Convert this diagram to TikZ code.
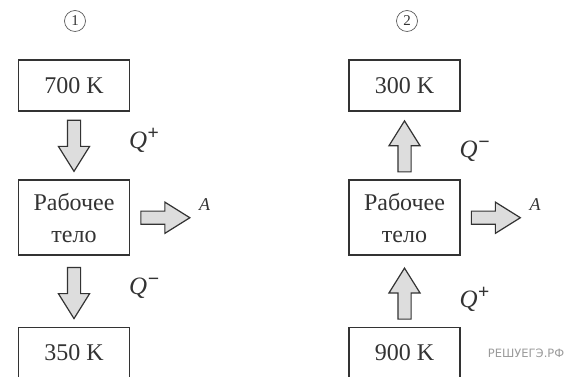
\documentclass[tikz,border=0pt]{standalone}
\usepackage{fontspec}
\setmainfont{Liberation Serif}
\newfontfamily\markfont{DejaVu Sans}
\usetikzlibrary{positioning, shapes.arrows}
\definecolor{linegray}{HTML}{333333}
\definecolor{arrowgray}{HTML}{DDDDDD}
\definecolor{markgray}{HTML}{9A9A9A}

\newcommand{\qplus}{Q\textsuperscript{\fontsize{20}{20}\selectfont\bfseries +}}
\newcommand{\qminus}{Q\textsuperscript{\fontsize{20}{20}\selectfont\bfseries −}}

\tikzset{
  tempbox/.style={draw=linegray, line width=1.5pt, minimum width=111pt,
    minimum height=51pt, inner sep=0pt, text=linegray,
    font=\fontsize{24}{32}\selectfont},
  bodybox/.style={tempbox, minimum height=75pt, align=center},
  heatarrow/.style={single arrow, draw=linegray, fill=arrowgray,
    line width=1.2pt, minimum height=51pt, minimum width=30pt,
    single arrow head extend=9pt, single arrow tip angle=64, inner sep=6pt},
  workarrow/.style={heatarrow, minimum height=49pt},
  qlabel/.style={anchor=west, inner sep=0pt, text=linegray,
    font=\fontsize{25}{25}\selectfont\itshape},
  alabel/.style={anchor=west, inner sep=0pt, text=linegray,
    font=\fontsize{18}{18}\selectfont\itshape},
  cyclemark/.style={circle, draw=linegray!80, line width=0.7pt,
    minimum size=21pt, inner sep=0pt, text=linegray,
    font=\fontsize{15}{15}\selectfont}
}

\begin{document}
\begin{tikzpicture}[x=1pt, y=1pt]
  \useasboundingbox (0,0) rectangle (565,377);

  % cycle 1
  \node[cyclemark] (mark1) at (75,356) {1};
  \node[tempbox] (hot1) at (74,291.5) {700 K};
  \node[heatarrow, shape border rotate=270, below=8pt of hot1] (qin1) {};
  \node[bodybox, below=7pt of qin1] (body1) {Рабочее\\тело};
  \node[heatarrow, shape border rotate=270, below=11pt of body1] (qout1) {};
  \node[tempbox, below=7pt of qout1] (cold1) {350 K};
  \node[workarrow, right=10pt of body1] (work1) {};
  \node[alabel, right=8pt of work1.east, yshift=13pt] (a1) {A};
  \node[qlabel, right=55pt of qin1.center] (qp1) {\qplus};
  \node[qlabel, right=55pt of qout1.center] (qm1) {\qminus};

  % cycle 2
  \node[cyclemark] (mark2) at (407,356) {2};
  \node[tempbox] (cold2) at (404.5,291.5) {300 K};
  \node[heatarrow, shape border rotate=90, below=8pt of cold2] (qout2) {};
  \node[bodybox, below=7pt of qout2] (body2) {Рабочее\\тело};
  \node[heatarrow, shape border rotate=90, below=11pt of body2] (qin2) {};
  \node[tempbox, below=7pt of qin2] (hot2) {900 K};
  \node[workarrow, right=10pt of body2] (work2) {};
  \node[alabel, right=8pt of work2.east, yshift=13pt] (a2) {A};
  \node[qlabel, right=55pt of qout2.center] (qm2) {\qminus};
  \node[qlabel, right=55pt of qin2.center] (qp2) {\qplus};

  \node[anchor=west, inner sep=0pt, text=markgray,
    font=\markfont\fontsize{11.5}{11.5}\selectfont, right=27pt of hot2]
    (site) {РЕШУЕГЭ.РФ};
\end{tikzpicture}
\end{document}
